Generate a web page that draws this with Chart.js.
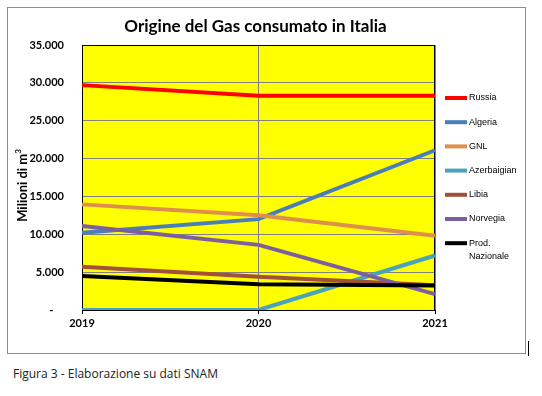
<!DOCTYPE html>
<html>
<head>
<meta charset="utf-8">
<script src="https://cdn.jsdelivr.net/npm/chart.js@4/dist/chart.umd.min.js"></script>
<style>
  body { margin: 0; background: #fff; width: 542px; height: 396px; position: relative; overflow: hidden; }
  #box { position: absolute; left: 7px; top: 7px; width: 517px; height: 345px; border: 1px solid #8c8c8c; }
  #caption { position: absolute; left: 13px; top: 365px; font: 12px "Open Sans", sans-serif; color: #222; }
  #mark { position: absolute; left: 528px; top: 341px; width: 1px; height: 15px; background: #000; }
</style>
</head>
<body>
<div id="box"><canvas id="gas" width="517" height="345"></canvas></div>
<div id="mark"></div>
<div id="caption">Figura 3 - Elaborazione su dati SNAM</div>
<script>
// anni sull'asse x
var years = ['2019', '2020', '2021'];
// milioni di m3 per provenienza
var russia = [29700, 28300, 28300];
var algeria = [10200, 12000, 21100];
var gnl = [13950, 12500, 9800];
var azerbaigian = [0, 0, 7200];
var libia = [5700, 4400, 3280];
var norvegia = [11100, 8600, 2100];
var prodNazionale = [4500, 3400, 3250];

var names = ['Russia', 'Algeria', 'GNL', 'Azerbaigian', 'Libia', 'Norvegia', 'Prod. Nazionale'];
var series = [russia, algeria, gnl, azerbaigian, libia, norvegia, prodNazionale];
var colors = ['#ff0000', '#4a7ebb', '#de8f4b', '#4aa3bd', '#a2503a', '#7d5fa0', '#000000'];

var titleText = 'Origine del Gas consumato in Italia';

// testi, sfondo e legenda stile Excel
var excelDecor = {
    id: 'excelDecor',
    beforeDraw: function(chart) {
        var ctx = chart.ctx, a = chart.chartArea;
        ctx.save();
        ctx.fillStyle = '#ffff00';
        ctx.fillRect(a.left, a.top, a.right - a.left, a.bottom - a.top);
        ctx.restore();
    },
    beforeDatasetsDraw: function(chart) {
        var ctx = chart.ctx, a = chart.chartArea;
        ctx.save();
        ctx.strokeStyle = '#000';
        ctx.lineWidth = 1;
        ctx.strokeRect(a.left + 0.5, a.top + 0.5, a.right - a.left - 1, a.bottom - a.top);
        ctx.restore();
    },
    afterDraw: function(chart) {
        var ctx = chart.ctx, a = chart.chartArea;
        ctx.save();
        // titolo
        ctx.fillStyle = '#000';
        ctx.font = 'bold 17px Lato, sans-serif';
        ctx.textAlign = 'center';
        ctx.textBaseline = 'middle';
        ctx.fillText(titleText, (a.left + a.right) / 2 - 3, 19);

        // titolo asse y
        ctx.save();
        ctx.translate(15, (a.top + a.bottom) / 2 + 8);
        ctx.rotate(-Math.PI / 2);
        ctx.font = 'bold 13px Lato, sans-serif';
        var main = 'Milioni di m';
        var w1 = ctx.measureText(main).width;
        ctx.font = 'bold 8px Lato, sans-serif';
        var w2 = ctx.measureText('3').width;
        ctx.textAlign = 'left';
        ctx.font = 'bold 13px Lato, sans-serif';
        ctx.fillText(main, -(w1 + w2) / 2, 0);
        ctx.font = 'bold 8px Lato, sans-serif';
        ctx.fillText('3', -(w1 + w2) / 2 + w1, -5);
        ctx.restore();

        // legenda
        ctx.font = '9px "Liberation Sans", sans-serif';
        ctx.textAlign = 'left';
        ctx.textBaseline = 'middle';
        chart.data.datasets.forEach(function(ds, i) {
            var y = a.top + 53 + i * 24.2;
            ctx.fillStyle = ds.borderColor;
            ctx.fillRect(a.right + 10, y - 2, 22, 4);
            ctx.fillStyle = '#000';
            var words = ds.label.split(' ');
            var lines = [], cur = '';
            words.forEach(function(wd) {
                var t = cur ? cur + ' ' + wd : wd;
                if (cur && ctx.measureText(t).width > 44) { lines.push(cur); cur = wd; }
                else cur = t;
            });
            lines.push(cur);
            lines.forEach(function(l, k) {
                ctx.fillText(l, a.right + 34, y + k * 13.5);
            });
        });
        ctx.restore();
    }
};

var datasets = names.map(function(n, i) {
    return {
        label: n,
        data: series[i],
        borderColor: colors[i],
        backgroundColor: colors[i],
        borderWidth: 4,
        pointRadius: 0,
        tension: 0,
        order: names.length - i
    };
});

new Chart(document.getElementById('gas').getContext('2d'), {
    type: 'line',
    data: { labels: years, datasets: datasets },
    plugins: [excelDecor],
    options: {
        responsive: false,
        animation: false,
        layout: { padding: { left: 0, right: 90, top: 37, bottom: 0 } },
        plugins: { legend: { display: false }, title: { display: false }, tooltip: { enabled: false } },
        scales: {
            x: {
                offset: false,
                afterFit: function(s) { s.height = 43; },
                grid: { color: '#808080', tickColor: '#000', tickLength: 4, drawOnChartArea: true },
                border: { color: '#000' },
                ticks: { padding: 3, color: '#000', font: { family: 'Lato', weight: 'bold', size: 11 } }
            },
            y: {
                min: 0,
                max: 35000,
                afterFit: function(s) { s.width = 74; },
                grid: { color: '#808080', drawTicks: false },
                border: { color: '#000' },
                ticks: {
                    stepSize: 5000,
                    padding: 18,
                    color: '#000',
                    font: { family: 'Lato', weight: 'bold', size: 11 },
                    callback: function(v) {
                        if (v === 0) return '-    ';
                        return String(v).replace(/\B(?=(\d{3})+(?!\d))/g, '.');
                    }
                }
            }
        }
    }
});
</script>
</body>
</html>
